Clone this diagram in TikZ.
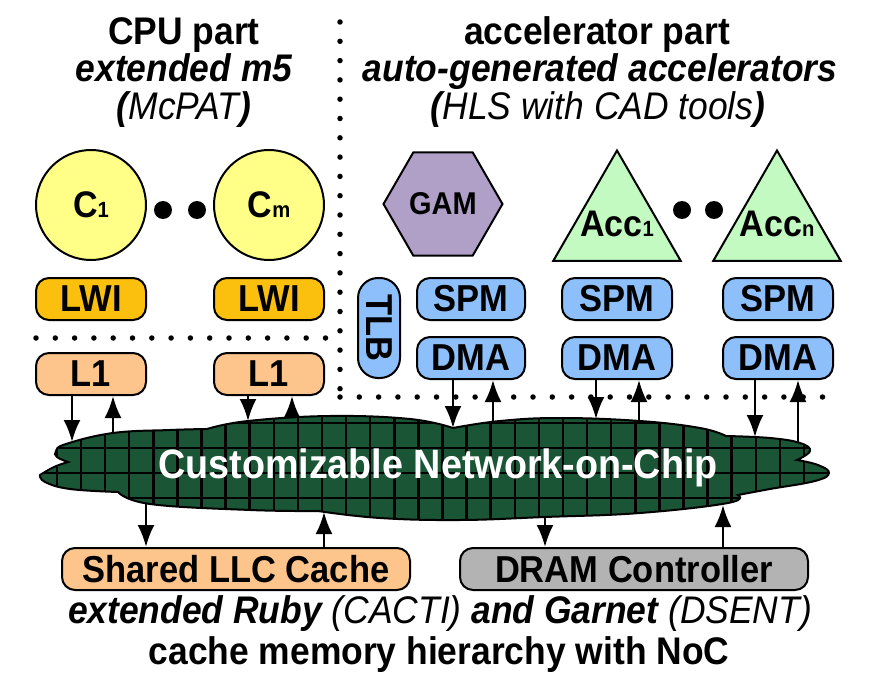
\documentclass[tikz,border=0pt]{standalone}
\usepackage{fontspec}
\setmainfont{Liberation Sans}[FakeStretch=0.92]
\usetikzlibrary{shapes.geometric,arrows.meta}

\definecolor{coreyellow}{HTML}{FFFF88}
\definecolor{lwiorange}{HTML}{FBC00E}
\definecolor{cachepeach}{HTML}{FDC48C}
\definecolor{memblue}{HTML}{8DBFFB}
\definecolor{gampurple}{HTML}{B09FC7}
\definecolor{accgreen}{HTML}{C2FAC2}
\definecolor{dramgray}{HTML}{B3B3B3}
\definecolor{nocgreen}{HTML}{1A5536}

\newcommand\bigtxt{\fontsize{38.5}{42}\selectfont}
\newcommand\boxtxt{\fontsize{37.5}{40}\selectfont}
\newcommand\sbs[1]{{\fontsize{22}{22}\selectfont #1}}

\tikzset{
	titletxt/.style={font=\bigtxt, inner sep=0pt, anchor=base},
	core/.style={circle, draw, line width=2pt, fill=coreyellow, minimum size=110pt, inner sep=0pt, font=\fontsize{37}{40}\selectfont\bfseries},
	blk/.style={draw, line width=2pt, rounded corners=13pt, minimum width=110pt, minimum height=42pt, inner sep=0pt, font=\boxtxt\bfseries},
	gam/.style={regular polygon, regular polygon sides=6, draw, line width=2pt, fill=gampurple, minimum size=119pt, inner sep=0pt, font=\fontsize{31.5}{34}\selectfont\bfseries},
	acc/.style={regular polygon, regular polygon sides=3, draw, line width=2pt, fill=accgreen, minimum size=147pt, inner sep=0pt},
	dotline/.style={line width=5.5pt, line cap=round, dash pattern=on 0pt off 19.3pt},
	link/.style={-{Latex[length=22pt,width=17pt]}, line width=2.5pt},
}

\begin{document}
\begin{tikzpicture}[x=1pt,y=-1pt]
	\useasboundingbox (0,0) rectangle (871,685);

	% titres
	\node[titletxt] (cputitle) at (184,45) {\bfseries CPU part};
	\node[titletxt] (cpusim) at (184,82) {\bfseries\itshape extended m5};
	\node[titletxt] (cpupow) at (184,119) {\itshape\textbf{(}McPAT\textbf{)}};
	\node[titletxt] (acctitle) at (597,45) {\bfseries accelerator part};
	\node[titletxt] (accsim) at (600,82) {\bfseries\itshape auto-generated accelerators};
	\node[titletxt] (accpow) at (598,119) {\itshape\textbf{(}HLS with CAD tools\textbf{)}};

	% separations
	\draw[dotline] (340,22) -- (340,398);
	\draw[dotline] (36,338) -- (334,338);
	\draw[dotline] (340,397) -- (835,397);

	% cpu
	\node[core] (c1) at (91,205) {C\sbs{1}};
	\node[core] (cm) at (269,205) {C\sbs{m}};
	\fill (163,210) circle (9pt) (197,210) circle (9pt);
	\node[blk, fill=lwiorange] (lwia) at (91,299) {LWI};
	\node[blk, fill=lwiorange] (lwib) at (269,299) {LWI};
	\node[blk, fill=cachepeach] (l1a) at (91,374) {L1};
	\node[blk, fill=cachepeach] (l1b) at (269,374) {L1};

	% accelerateurs
	\node[gam] (gam) at (443,204) {GAM};
	\node[acc] (acca) at (617,224) {};
	\node[acc] (accn) at (777,224) {};
	\node[font=\fontsize{37}{40}\selectfont\bfseries] (accatxt) at (acca) {Acc\sbs{1}};
	\node[font=\fontsize{37}{40}\selectfont\bfseries] (accntxt) at (accn) {Acc\sbs{n}};
	\fill (682,210) circle (9pt) (714,210) circle (9pt);
	\node[blk, fill=memblue, minimum width=42pt, minimum height=100pt, rounded corners=20pt] (tlb) at (379,328) {\rotatebox{-90}{TLB}};
	\node[blk, fill=memblue, minimum width=108pt] (spmg) at (471,299) {SPM};
	\node[blk, fill=memblue, minimum width=108pt] (dmag) at (471,358) {DMA};
	\node[blk, fill=memblue] (spma) at (617,299) {SPM};
	\node[blk, fill=memblue] (dmaa) at (617,358) {DMA};
	\node[blk, fill=memblue] (spmn) at (778,299) {SPM};
	\node[blk, fill=memblue] (dman) at (778,358) {DMA};

	% memoire
	\node[blk, fill=cachepeach, minimum width=348pt] (llc) at (236,569) {Shared LLC Cache};
	\node[blk, fill=dramgray, minimum width=348pt] (dram) at (634,569) {DRAM Controller};

	% noc
	\def\nocpath{(40,475)
		-- plot[smooth,tension=.7] coordinates {(40,475) (54,467) (68,462)}
		-- plot[smooth,tension=.7] coordinates {(68,462) (57,457) (56,451) (66,444) (113,433) (170,430) (207,429)}
		-- plot[smooth,tension=.7] coordinates {(207,429) (248,421) (330,416) (410,419) (453,428)}
		-- plot[smooth,tension=.7] coordinates {(453,428) (500,421) (560,418) (640,421) (700,428) (726,436)}
		-- plot[smooth,tension=.7] coordinates {(726,436) (770,438) (800,443) (810,451) (797,460)}
		-- plot[smooth,tension=.7] coordinates {(797,460) (818,465) (829,473) (815,481) (770,489) (738,495)}
		-- plot[smooth,tension=.7] coordinates {(738,495) (728,503) (640,513) (545,517) (460,520) (380,518) (318,511)}
		-- plot[smooth,tension=.7] coordinates {(318,511) (250,510) (150,504) (118,492)}
		-- plot[smooth,tension=.7] coordinates {(118,492) (70,489) (45,482) (40,475)}
		-- cycle}
	\begin{scope}
		\clip \nocpath;
		\fill[nocgreen] (20,390) rectangle (850,540);
		\foreach \k in {-2,...,31} {
			\draw[line width=2.5pt] (81+24.1*\k,390) -- (81+24.1*\k,540);
		}
		\foreach \j in {0,...,5} {
			\draw[line width=2.5pt] (20,398+25*\j) -- (850,398+25*\j);
		}
	\end{scope}
	\draw[line width=2pt] \nocpath;
	\node[font=\fontsize{41}{44}\selectfont\bfseries, text=white] (noc) at (438,468) {Customizable Network-on-Chip};

	% liens
	\foreach \nd/\xd/\yd/\xu/\yu in {l1a/72/442/113/433, l1b/248/421/292/418, dmag/453/428/493/422, dmaa/596/419/639/421, dman/755/437/798/443} {
		\coordinate (d-\nd) at (\xd,\yd);
		\coordinate (u-\nd) at (\xu,\yu);
		\draw[link] (\nd.south -| d-\nd) -- (d-\nd);
		\draw[link] (u-\nd) -- (\nd.south -| u-\nd);
	}
	\foreach \nd/\xd/\yd/\xu/\yu in {llc/146/504/324/512, dram/545/517/723/505} {
		\coordinate (d-\nd) at (\xd,\yd);
		\coordinate (u-\nd) at (\xu,\yu);
		\draw[link] (d-\nd) -- (\nd.north -| d-\nd);
		\draw[link] (\nd.north -| u-\nd) -- (u-\nd);
	}

	% legende
	\node[titletxt] (memsim) at (440,623) {\bfseries\itshape extended Ruby \mdseries(CACTI) \bfseries and Garnet \mdseries(DSENT)};
	\node[titletxt] (memtxt) at (439,664) {\bfseries cache memory hierarchy with NoC};
\end{tikzpicture}
\end{document}
